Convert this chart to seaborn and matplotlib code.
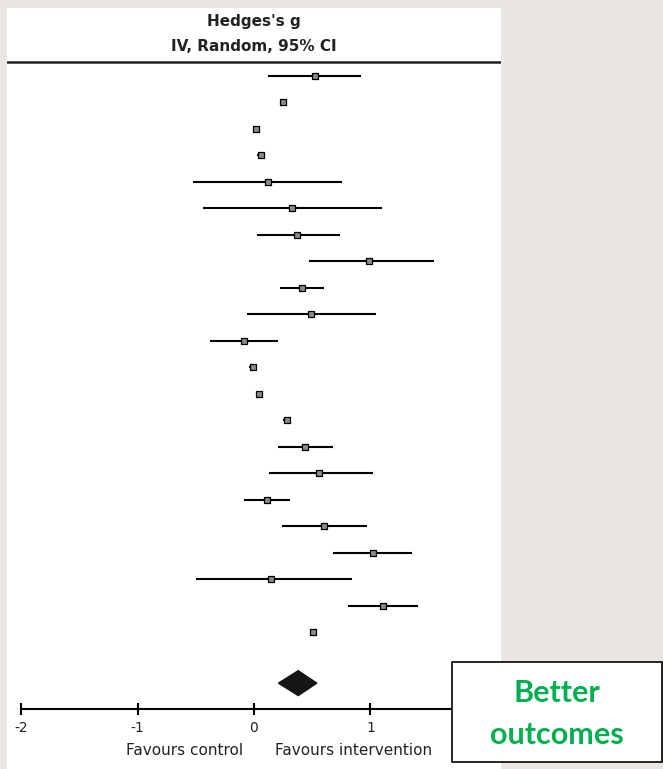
import numpy as np
import pandas as pd
import matplotlib.pyplot as plt
import seaborn as sns
from matplotlib.patches import Rectangle

# effect sizes (Hedges's g) with 95% CI
est = [0.52, 0.25, 0.02, 0.06, 0.12, 0.33, 0.37, 0.99, 0.41, 0.49, -0.09,
       -0.01, 0.04, 0.28, 0.44, 0.56, 0.11, 0.60, 1.02, 0.15, 1.11, 0.51]
lo = [0.12, 0.22, -0.01, 0.03, -0.52, -0.44, 0.03, 0.47, 0.22, -0.06, -0.38,
      -0.04, 0.02, 0.25, 0.21, 0.13, -0.09, 0.24, 0.68, -0.50, 0.81, 0.48]
hi = [0.92, 0.28, 0.05, 0.09, 0.76, 1.10, 0.74, 1.55, 0.60, 1.05, 0.21,
      0.02, 0.06, 0.31, 0.68, 1.02, 0.31, 0.97, 1.36, 0.84, 1.41, 0.54]
pooled = [0.21, 0.38, 0.54]  # lo, est, hi

ticks = [-2, -1, 0, 1, 2]
header = ["Hedges's g", "IV, Random, 95% CI"]
favours = ["Favours control", "Favours intervention"]
box_text = ["Better", "outcomes"]

df = pd.DataFrame({"est": est, "lo": lo, "hi": hi})
df["row"] = np.arange(len(df))

sns.set_style("white")
fig = plt.figure(figsize=(6.63, 7.69), dpi=100, facecolor="#e9e6e3")
ax = fig.add_axes([7 / 663, 0, 494 / 663, 761 / 769])
ax.set_facecolor("white")
ax.set_xlim(-2.122, 2.122)
ax.set_ylim(26.16, -2.555)
ax.axis("off")
ax.add_patch(Rectangle((0, 0), 1, 1, transform=ax.transAxes,
                       facecolor="white", edgecolor="none", zorder=0))

# header
ax.text(0, -2.03, header[0], ha="center", va="center", fontsize=11,
        fontweight="bold", color="#222")
ax.text(0, -1.1, header[1], ha="center", va="center", fontsize=11,
        fontweight="bold", color="#222")
ax.axhline(-0.52, color="#222", lw=1.8)

# study rows
ax.hlines(df["row"], df["lo"], df["hi"], color="black", lw=1.5, zorder=2)
sns.scatterplot(data=df, x="est", y="row", marker="s", s=24, color="#8a8a8a",
                edgecolor="black", linewidth=0.9, legend=False, ax=ax, zorder=3)

# pooled diamond
yd, h = 22.92, 0.47
ax.fill([pooled[0], pooled[1], pooled[2], pooled[1]],
        [yd, yd - h, yd, yd + h], color="#151515", zorder=3)

# x axis
ya = 23.9
ax.hlines(ya, ticks[0], ticks[-1], color="black", lw=1.5)
ax.vlines(ticks, ya - 0.23, ya + 0.23, color="black", lw=1.5)
for t in ticks:
    ax.text(t, 24.62, str(t), ha="center", va="center", fontsize=10, color="#222")
ax.text(-0.09, 25.45, favours[0], ha="right", va="center", fontsize=11, color="#222")
ax.text(0.18, 25.45, favours[1], ha="left", va="center", fontsize=11, color="#222")

# "Better outcomes" box
fig.patches.append(Rectangle((452 / 663, 1 - 762 / 769), 210 / 663, 100 / 769,
                             transform=fig.transFigure, facecolor="white",
                             edgecolor="black", lw=1.2, zorder=10))
fig.text(557 / 663, 1 - 693 / 769, box_text[0], ha="center", va="center",
         fontsize=22, fontweight="bold", family="Lato", color="#00b050", zorder=11)
fig.text(557 / 663, 1 - 735 / 769, box_text[1], ha="center", va="center",
         fontsize=22, fontweight="bold", family="Lato", color="#00b050", zorder=11)

fig.savefig("out.png", dpi=100, facecolor=fig.get_facecolor())
